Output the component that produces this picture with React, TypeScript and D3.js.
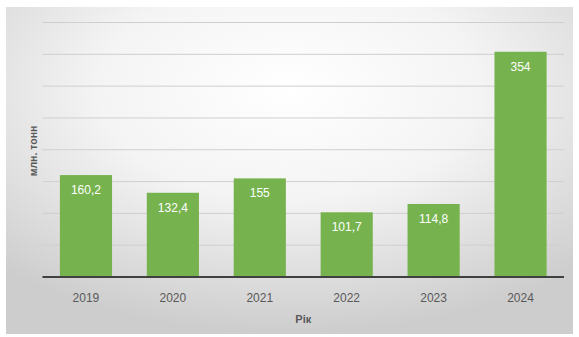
import React from "react";
import * as d3 from "d3";

const years = ["2019", "2020", "2021", "2022", "2023", "2024"];
const values = [160.2, 132.4, 155, 101.7, 114.8, 354];
const valueLabels = ["160,2", "132,4", "155", "101,7", "114,8", "354"];
const yTicks = [0, 50, 100, 150, 200, 250, 300, 350, 400];

export default function App() {
  const W = 579, H = 337;
  const left = 42.5, right = 564, top = 22.5, bottom = 277;
  const x = d3.scaleBand().domain(years).range([left, right]).paddingInner(0.4).paddingOuter(0.2);
  const y = d3.scaleLinear().domain([0, 400]).range([bottom, top]);
  const font = "'Liberation Sans', Arial, sans-serif";
  return (
    <svg width={W} height={H} style={{ position: "absolute", left: 0, top: 0 }}>
      <defs>
        <radialGradient id="bg" cx="50%" cy="25%" r="75%">
          <stop offset="0%" stopColor="#ffffff" />
          <stop offset="45%" stopColor="#f4f4f4" />
          <stop offset="100%" stopColor="#cdcdcd" />
        </radialGradient>
      </defs>
      <rect x={0} y={0} width={W} height={H} fill="#ffffff" />
      <rect x={6} y={7} width={567} height={327} fill="url(#bg)" />
      {yTicks.filter((t) => t > 0).map((t) => (
        <line key={t} x1={left} x2={right} y1={y(t)} y2={y(t)} stroke="#cfcfcf" strokeWidth={1} />
      ))}
      {years.map((yr, i) => (
        <g key={yr}>
          <rect x={x(yr)!} y={y(values[i])} width={x.bandwidth()} height={bottom - y(values[i])} fill="#76b34f" />
          <text x={x(yr)! + x.bandwidth() / 2} y={y(values[i]) + 19} textAnchor="middle" fill="#ffffff" fontSize={12} fontFamily={font}>
            {valueLabels[i]}
          </text>
          <text x={x(yr)! + x.bandwidth() / 2} y={302} textAnchor="middle" fill="#595959" fontSize={12} fontFamily={font}>
            {yr}
          </text>
        </g>
      ))}
      <line x1={left} x2={right} y1={bottom} y2={bottom} stroke="#404040" strokeWidth={1.8} />
      <text x={(left + right) / 2} y={323} textAnchor="middle" fill="#595959" fontSize={11} fontWeight="bold" fontFamily={font}>
        Рік
      </text>
      <text transform={`translate(37,151) rotate(-90)`} textAnchor="middle" fill="#595959" fontSize={10.5} fontWeight="bold" fontFamily={font}>
        млн. тонн
      </text>
    </svg>
  );
}
